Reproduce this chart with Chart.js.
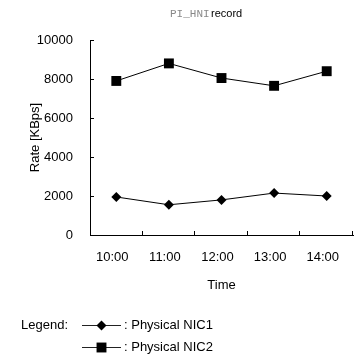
<!DOCTYPE html>
<html>
<head>
<meta charset="utf-8">
<script src="https://cdn.jsdelivr.net/npm/chart.js@4"></script>
<style>
html,body{margin:0;padding:0;background:#fff;}
#wrap{width:360px;height:360px;position:relative;}
</style>
</head>
<body>
<div id="wrap"><canvas id="c" width="360" height="360"></canvas></div>
<script>
const categories = ["10:00", "11:00", "12:00", "13:00", "14:00"];
const nic1 = [1950, 1550, 1800, 2150, 2000];
const nic2 = [7900, 8800, 8050, 7650, 8400];
const seriesNames = ["Physical NIC1", "Physical NIC2"];
const yTicks = [0, 2000, 4000, 6000, 8000, 10000];

const SANS = '"Liberation Sans", Arial, sans-serif';

const decorPlugin = {
  id: 'decor',
  afterDraw(chart) {
    const ctx = chart.ctx;
    const x = chart.scales.x, y = chart.scales.y;
    const a = chart.chartArea;
    ctx.save();
    ctx.strokeStyle = '#000';
    ctx.lineWidth = 1;
    yTicks.forEach(v => {
      if (v === 0) return;
      const py = Math.round(y.getPixelForValue(v)) + 0.5;
      ctx.beginPath();
      ctx.moveTo(a.left, py);
      ctx.lineTo(a.left + 4, py);
      ctx.stroke();
    });
    const step = x.getPixelForValue(1) - x.getPixelForValue(0);
    categories.forEach((c, i) => {
      const px = Math.round(x.getPixelForValue(i) + step / 2) - 0.5;
      ctx.beginPath();
      ctx.moveTo(px, a.bottom);
      ctx.lineTo(px, a.bottom - 4);
      ctx.stroke();
    });
    ctx.textBaseline = 'middle';
    ctx.textAlign = 'left';
    ctx.font = '11px "Liberation Mono", "DejaVu Sans Mono", monospace';
    ctx.fillStyle = '#888';
    ctx.fillText('PI_HNI', 170, 14);
    ctx.font = '11px ' + SANS;
    ctx.fillStyle = '#000';
    ctx.fillText('record', 211, 14);
    ctx.font = '13px ' + SANS;
    ctx.fillStyle = '#000';
    ctx.fillText('Legend:', 21, 325);
    const rows = [
      {y: 325, ds: chart.data.datasets[0]},
      {y: 347, ds: chart.data.datasets[1]}
    ];
    rows.forEach(r => {
      ctx.strokeStyle = '#222';
      ctx.lineWidth = 1;
      ctx.beginPath();
      ctx.moveTo(82, r.y + 0.5);
      ctx.lineTo(121, r.y + 0.5);
      ctx.stroke();
      ctx.fillStyle = '#000';
      Chart.helpers.drawPoint(ctx, {
        pointStyle: r.ds.pointStyle,
        radius: r.ds.pointRadius,
        rotation: 0,
        borderWidth: 0
      }, 101.5, r.y + 0.5);
      ctx.fillStyle = '#000';
      ctx.fillText(': ' + r.ds.label, 124, r.y);
    });
    ctx.restore();
  }
};

new Chart(document.getElementById('c'), {
  type: 'line',
  data: {
    labels: categories,
    datasets: [
      {
        label: seriesNames[0],
        data: nic1,
        borderColor: '#000',
        backgroundColor: '#000',
        borderWidth: 1,
        pointStyle: 'rectRot',
        pointRadius: 5,
        pointBorderWidth: 0,
        pointBackgroundColor: '#000',
        tension: 0
      },
      {
        label: seriesNames[1],
        data: nic2,
        borderColor: '#000',
        backgroundColor: '#000',
        borderWidth: 1,
        pointStyle: 'rect',
        pointRadius: 7,
        pointBorderWidth: 0,
        pointBackgroundColor: '#000',
        tension: 0
      }
    ]
  },
  options: {
    responsive: false,
    animation: false,
    layout: {padding: {top: 40, right: 3, bottom: 65, left: 0}},
    plugins: {
      legend: {display: false},
      title: {display: false},
      tooltip: {enabled: false}
    },
    scales: {
      x: {
        type: 'category',
        offset: true,
        afterFit(s) { s.height = 60; },
        grid: {display: false, drawTicks: false, offset: true},
        border: {display: true, color: '#000', width: 1},
        ticks: {
          color: '#000',
          font: {family: SANS, size: 13},
          padding: 15,
          labelOffset: -4,
          maxRotation: 0
        },
        title: {
          display: true,
          text: 'Time',
          color: '#000',
          font: {family: SANS, size: 13},
          padding: {top: 0, bottom: 2}
        }
      },
      y: {
        min: 0,
        max: 10000,
        afterFit(s) { s.width = 90; },
        afterBuildTicks(s) { s.ticks = yTicks.map(v => ({value: v})); },
        grid: {display: false, drawTicks: false},
        border: {display: true, color: '#000', width: 1},
        ticks: {
          color: '#000',
          font: {family: SANS, size: 13},
          padding: 17,
          callback: v => String(v)
        },
        title: {
          display: true,
          text: 'Rate [KBps]',
          color: '#000',
          font: {family: SANS, size: 13},
          padding: {top: 28, bottom: 0}
        }
      }
    }
  },
  plugins: [decorPlugin]
});
</script>
</body>
</html>
